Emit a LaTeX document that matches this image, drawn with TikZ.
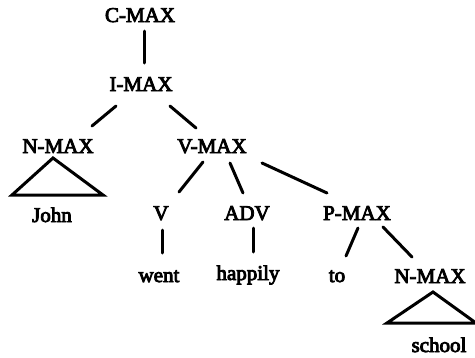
\documentclass[tikz,border=0pt]{standalone}
\usepackage{fontspec}
\newfontfamily\scanfont[FakeBold=4]{Liberation Serif}
\begin{document}
\begin{tikzpicture}[x=1pt,y=-1pt,
  lab/.style={anchor=base,inner sep=0pt,font=\scanfont\fontsize{21}{24}\selectfont},
  edge/.style={line width=3pt,line cap=round},
  tri/.style={line width=3pt,line join=miter}]
\useasboundingbox (0,0) rectangle (475,357);
\node[lab] (cmax) at (140,22) {C-MAX};
\node[lab] (imax) at (141,91) {I-MAX};
\node[lab] (nmaxL) at (58,153) {N-MAX};
\node[lab] (vmax) at (212,153) {V-MAX};
\node[lab] (john) at (52,222) {John};
\node[lab] (v) at (161,220) {V};
\node[lab] (adv) at (247,220) {ADV};
\node[lab] (pmax) at (357,220) {P-MAX};
\node[lab] (went) at (159,282) {went};
\node[lab] (happily) at (248,280) {happily};
\node[lab] (to) at (337,282) {to};
\node[lab] (nmaxR) at (430,283) {N-MAX};
\node[lab] (school) at (439,352) {school};
\draw[edge] ([shift={(4,9)}]cmax.base) -- ([shift={(3,-28)}]imax.base);
\draw[edge] ([shift={(-25,15)}]imax.base) -- ([shift={(34,-27)}]nmaxL.base);
\draw[edge] ([shift={(29,15)}]imax.base) -- ([shift={(-16,-25)}]vmax.base);
\draw[edge] ([shift={(-9,9)}]vmax.base) -- ([shift={(18,-28)}]v.base);
\draw[edge] ([shift={(18,10)}]vmax.base) -- ([shift={(-4,-27)}]adv.base);
\draw[edge] ([shift={(50,10)}]vmax.base) -- ([shift={(-30,-27)}]pmax.base);
\draw[edge] ([shift={(1,10)}]v.base) -- ([shift={(3,-29)}]went.base);
\draw[edge] ([shift={(6,8)}]adv.base) -- ([shift={(5,-28)}]happily.base);
\draw[edge] ([shift={(1,8)}]pmax.base) -- ([shift={(9,-26)}]to.base);
\draw[edge] ([shift={(26,7)}]pmax.base) -- ([shift={(-18,-26)}]nmaxR.base);
\draw[tri] ([shift={(-5,5)}]nmaxL.base) -- ([shift={(-40,-27)}]john.base) -- ([shift={(51,-27)}]john.base) -- cycle;
\draw[tri] ([shift={(3,9)}]nmaxR.base) -- ([shift={(-52,-29)}]school.base) -- ([shift={(37,-29)}]school.base) -- cycle;
\end{tikzpicture}
\end{document}
